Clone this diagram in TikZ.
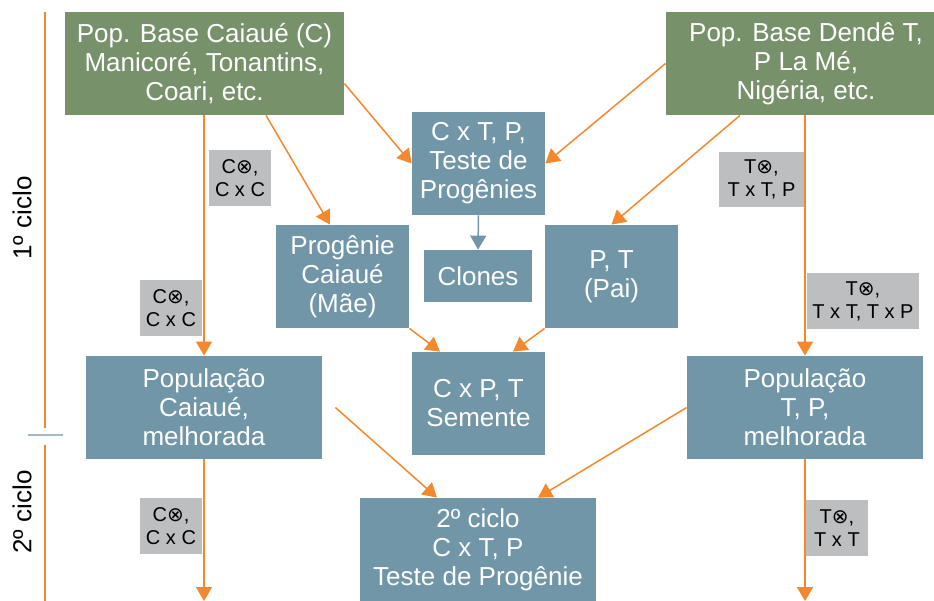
\documentclass[tikz,border=0pt]{standalone}
\usepackage{fontspec}
\setmainfont{Liberation Sans}
\newfontfamily\simb{DejaVu Sans}
\usetikzlibrary{arrows.meta}
\definecolor{verde}{HTML}{77916A}
\definecolor{azul}{HTML}{7096A8}
\definecolor{cinza}{HTML}{BDBEC0}
\definecolor{laranja}{HTML}{F5882D}
\definecolor{traco}{HTML}{A3BAC6}
\newcommand{\xself}{{\simb ⊗}}
\begin{document}
\begin{tikzpicture}[x=0.5pt,y=-0.5pt,
	caixa/.style={fill=azul, text=white, align=center, inner sep=0pt, font=\fontsize{13}{14.5}\selectfont},
	base/.style={caixa, fill=verde},
	rotulo/.style={fill=cinza, align=center, inner sep=0pt, font=\fontsize{10}{11.5}\selectfont},
	seta/.style={draw=laranja, line width=0.75pt, -{Triangle[width=8pt,length=7pt]}},
	ciclo/.style={rotate=90, font=\fontsize{13}{14}\selectfont}]
	    \useasboundingbox (0,0) rectangle (934,601);
	    \clip (0,0) rectangle (934,601);
	
	    % eixo dos ciclos
	    \draw[laranja, line width=0.75pt] (45,12) -- (45,428);
	    \draw[laranja, line width=0.75pt] (45,445) -- (45,601);
	    \draw[traco, line width=1pt] (28,434.5) -- (63,434.5);
	    \node[ciclo] (c1) at (22,218) {1º ciclo};
	    \node[ciclo] (c2) at (22,512) {2º ciclo};
	
	    % populacoes base
	    \node[base, minimum width=139.5pt, minimum height=51.5pt] (gl) at (204.5,63.5) {Pop. Base Caiaué (C)\\Manicoré, Tonantins,\\Coari, etc.};
	    \node[base, minimum width=140pt, minimum height=51.5pt] (gr) at (806,63.5) {Pop. Base Dendê T,\\P La Mé,\\Nigéria, etc.};
	
	    % caixas centrais
	    \node[caixa, minimum width=66.5pt, minimum height=51.5pt] (teste) at (478.5,163.5) {C x T, P,\\Teste de\\Progênies};
	    \node[caixa, minimum width=66.5pt, minimum height=51.5pt] (prog) at (342.5,276.5) {Progênie\\Caiaué\\(Mãe)};
	    \node[caixa, minimum width=54pt, minimum height=26pt] (clones) at (478,276) {Clones};
	    \node[caixa, minimum width=66.5pt, minimum height=51.5pt] (pai) at (611.5,276.5) {P, T\\(Pai)};
	    \node[caixa, minimum width=66.5pt, minimum height=51.5pt] (sem) at (478.5,403.5) {C x P, T\\Semente};
	    \node[caixa, minimum width=118pt, minimum height=51.5pt] (popc) at (204,407.5) {População\\Caiaué,\\melhorada};
	    \node[caixa, minimum width=118pt, minimum height=51.5pt] (popt) at (805,407.5) {População\\T, P,\\melhorada};
	    \node[caixa, minimum width=118pt, minimum height=52pt] (ciclo2) at (478,550) {2º ciclo\\C x T, P\\Teste de Progênie};
	
	    % fim das setas de baixo
	    \coordinate (fimc) at (204,601);
	    \coordinate (fimt) at (805,601);
	
	    \path
	    (popc.north |- gl.south) edge[seta] (popc.north)
	    (popt.north |- gr.south) edge[seta] (popt.north)
	    ([yshift=-10pt]gl.east) edge[seta] (teste.west)
	    ([xshift=30.75pt]gl.south) edge[seta] ([xshift=-6.25pt]prog.north)
	    (gr.west) edge[seta] (teste.east)
	    ([xshift=-33pt]gr.south) edge[seta] (pai.north)
	    (prog.south east) edge[seta] ([xshift=-19.25pt]sem.north)
	    (pai.south west) edge[seta] ([xshift=17.25pt]sem.north)
	    ([xshift=6.5pt]popc.east) edge[seta] ([xshift=-20.5pt]ciclo2.north)
	    (popt.west) edge[seta] ([xshift=30pt]ciclo2.north)
	    (popc.south) edge[seta] (fimc)
	    (popt.south) edge[seta] (fimt)
	    (teste.south) edge[seta, draw=azul] (clones.north)
	    ;
	
	    % cruzamentos
	    \node[rotulo, minimum width=31pt, minimum height=28pt] (r1) at (240,178) {C\xself,\\C x C};
	    \node[rotulo, minimum width=31pt, minimum height=28pt] (r2) at (171,308) {C\xself,\\C x C};
	    \node[rotulo, minimum width=31pt, minimum height=28pt] (r3) at (171,526) {C\xself,\\C x C};
	    \node[rotulo, minimum width=42.5pt, minimum height=27.5pt] (r4) at (761.5,179.5) {T\xself,\\T x T, P};
	    \node[rotulo, minimum width=56pt, minimum height=28pt] (r5) at (863,301) {T\xself,\\T x T, T x P};
	    \node[rotulo, minimum width=31pt, minimum height=28pt] (r6) at (837,528) {T\xself,\\T x T};
	\end{tikzpicture}
\end{document}
